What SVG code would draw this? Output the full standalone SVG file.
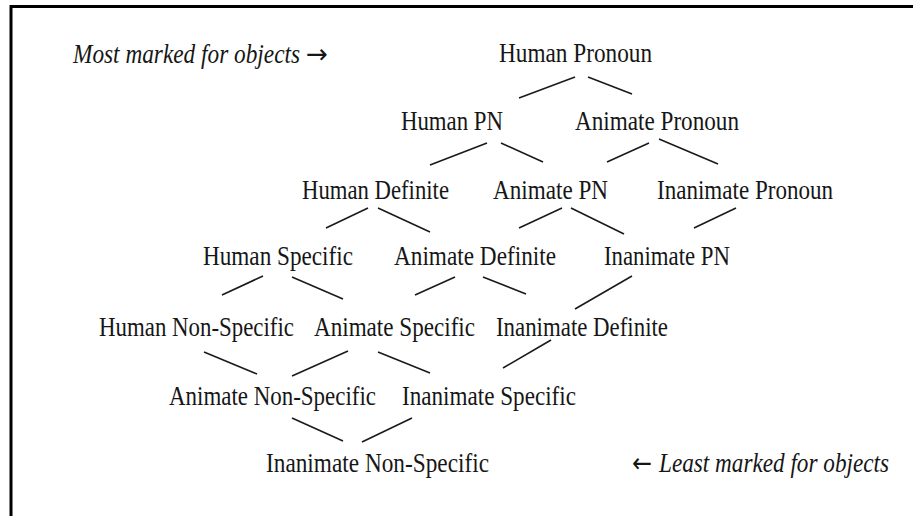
<svg xmlns="http://www.w3.org/2000/svg" width="913" height="516" viewBox="0 0 913 516">
<style>
.lbl{font-family:"Liberation Serif","Times New Roman",serif;font-size:28px;fill:#161616;}
.it{font-style:italic;}
.arr{font-family:"DejaVu Sans",sans-serif;font-style:normal;font-size:27px;}
.edge{stroke:#1a1a1a;stroke-width:1.6;fill:none;}
.frame{stroke:#000;stroke-width:3;fill:none;}
</style>
<rect width="913" height="516" fill="#fff"/>
<g id="frame">
<line class="frame" x1="11" y1="6.5" x2="913" y2="6.5"/>
<line class="frame" x1="11" y1="5" x2="11" y2="516"/>
</g>
<g id="legend-most">
<text class="lbl it" y="63"><tspan x="73" textLength="227" lengthAdjust="spacingAndGlyphs">Most marked for objects</tspan><tspan class="arr" x="306" textLength="22" lengthAdjust="spacingAndGlyphs">→</tspan></text>
</g>
<g id="legend-least">
<text class="lbl it" y="472"><tspan class="arr" x="632" textLength="20" lengthAdjust="spacingAndGlyphs">←</tspan><tspan x="659" textLength="230" lengthAdjust="spacingAndGlyphs">Least marked for objects</tspan></text>
</g>
<g id="connectors">
<line class="edge" x1="519" y1="98" x2="575" y2="77"/>
<line class="edge" x1="588" y1="77" x2="632" y2="94"/>
<line class="edge" x1="430" y1="165" x2="487" y2="143"/>
<line class="edge" x1="501" y1="143" x2="543" y2="162"/>
<line class="edge" x1="607" y1="162" x2="649" y2="143"/>
<line class="edge" x1="659" y1="139" x2="718" y2="164"/>
<line class="edge" x1="326" y1="228" x2="368" y2="208"/>
<line class="edge" x1="378" y1="208" x2="430" y2="232"/>
<line class="edge" x1="519" y1="228" x2="562" y2="208"/>
<line class="edge" x1="571" y1="208" x2="624" y2="234"/>
<line class="edge" x1="694" y1="228" x2="736" y2="208"/>
<line class="edge" x1="222" y1="295" x2="263" y2="276"/>
<line class="edge" x1="292" y1="277" x2="343" y2="299"/>
<line class="edge" x1="415" y1="295" x2="455" y2="277"/>
<line class="edge" x1="483" y1="277" x2="526" y2="294"/>
<line class="edge" x1="575" y1="309" x2="632" y2="276"/>
<line class="edge" x1="204" y1="352" x2="257" y2="374"/>
<line class="edge" x1="292" y1="376" x2="348" y2="351"/>
<line class="edge" x1="378" y1="352" x2="430" y2="373"/>
<line class="edge" x1="503" y1="368" x2="551" y2="340"/>
<line class="edge" x1="292" y1="418" x2="343" y2="441"/>
<line class="edge" x1="362" y1="442" x2="412" y2="418"/>
</g>
<g id="human-pronoun"><text class="lbl" x="499" y="62" textLength="153" lengthAdjust="spacingAndGlyphs">Human Pronoun</text></g>
<g id="human-pn"><text class="lbl" x="401" y="130" textLength="102" lengthAdjust="spacingAndGlyphs">Human PN</text></g>
<g id="animate-pronoun"><text class="lbl" x="575" y="130" textLength="164" lengthAdjust="spacingAndGlyphs">Animate Pronoun</text></g>
<g id="human-definite"><text class="lbl" x="302" y="198.5" textLength="147" lengthAdjust="spacingAndGlyphs">Human Definite</text></g>
<g id="animate-pn"><text class="lbl" x="493" y="198.5" textLength="115" lengthAdjust="spacingAndGlyphs">Animate PN</text></g>
<g id="inanimate-pronoun"><text class="lbl" x="657" y="198.5" textLength="176" lengthAdjust="spacingAndGlyphs">Inanimate Pronoun</text></g>
<g id="human-specific"><text class="lbl" x="203" y="265" textLength="150" lengthAdjust="spacingAndGlyphs">Human Specific</text></g>
<g id="animate-definite"><text class="lbl" x="394" y="265" textLength="162" lengthAdjust="spacingAndGlyphs">Animate Definite</text></g>
<g id="inanimate-pn"><text class="lbl" x="604" y="265" textLength="126" lengthAdjust="spacingAndGlyphs">Inanimate PN</text></g>
<g id="human-non-specific"><text class="lbl" x="99" y="336" textLength="195" lengthAdjust="spacingAndGlyphs">Human Non-Specific</text></g>
<g id="animate-specific"><text class="lbl" x="314" y="336" textLength="161" lengthAdjust="spacingAndGlyphs">Animate Specific</text></g>
<g id="inanimate-definite"><text class="lbl" x="496" y="336" textLength="172" lengthAdjust="spacingAndGlyphs">Inanimate Definite</text></g>
<g id="animate-non-specific"><text class="lbl" x="169" y="405" textLength="207" lengthAdjust="spacingAndGlyphs">Animate Non-Specific</text></g>
<g id="inanimate-specific"><text class="lbl" x="402" y="405" textLength="174" lengthAdjust="spacingAndGlyphs">Inanimate Specific</text></g>
<g id="inanimate-non-specific"><text class="lbl" x="266" y="472" textLength="223" lengthAdjust="spacingAndGlyphs">Inanimate Non-Specific</text></g>
</svg>
